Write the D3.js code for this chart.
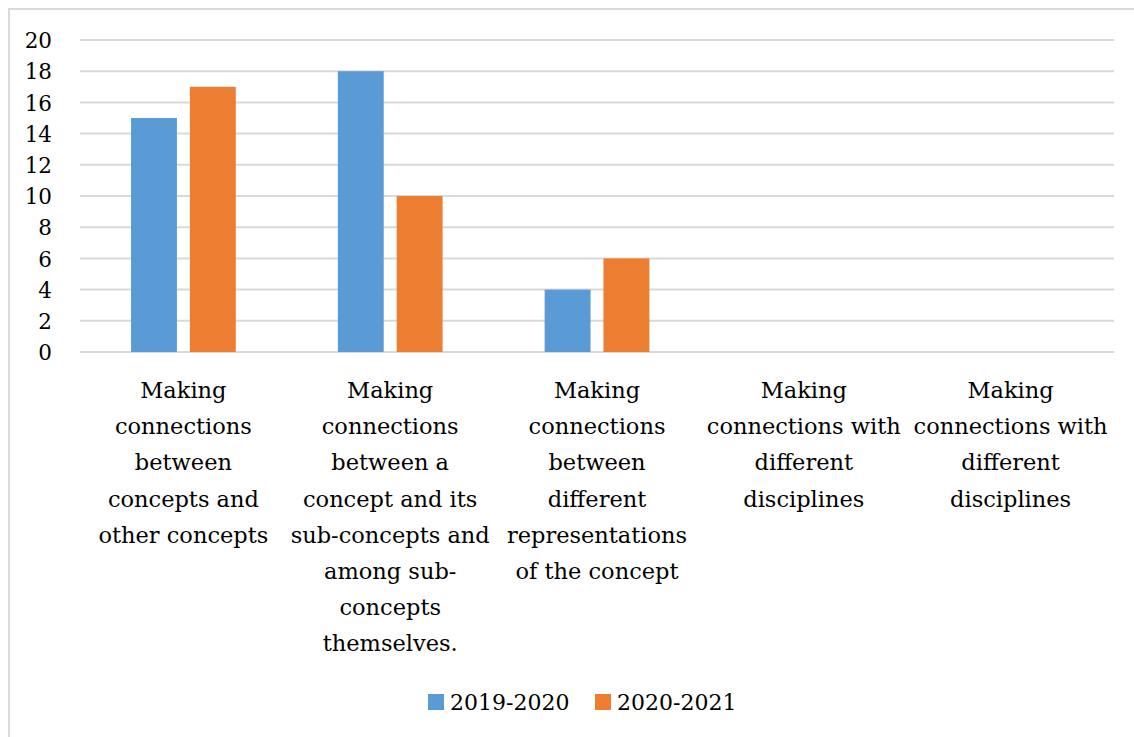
<!DOCTYPE html>
<html><head><meta charset="utf-8">
<script src="https://cdn.jsdelivr.net/npm/d3@7"></script>
<style>body{margin:0;background:#fff;} svg{display:block;} svg text{font-family:"DejaVu Serif";}</style>
</head><body>
<svg id="c" width="1134" height="737"></svg>
<script>
const categories = [
  ["Making","connections","between","concepts and","other concepts"],
  ["Making","connections","between a","concept and its","sub-concepts and","among sub-","concepts","themselves."],
  ["Making","connections","between","different","representations","of the concept"],
  ["Making","connections with","different","disciplines"],
  ["Making","connections with","different","disciplines"]
];
const seriesNames = ["2019-2020","2020-2021"];
const values2019 = [15,18,4,0,0];
const values2020 = [17,10,6,0,0];
const yTicks = [0,2,4,6,8,10,12,14,16,18,20];
const colors = ["#5b9bd5","#ed7d31"];

(function(){
const svg = d3.select("#c");
svg.append("path").attr("d","M9,737 L9,9 L1134,9").attr("fill","none").attr("stroke","#d9d9d9").attr("stroke-width",2);

const pL=80, pR=1114, pT=40, pB=352;
const x = d3.scaleBand().domain(d3.range(categories.length)).range([pL,pR]).paddingInner(0.4936).paddingOuter(0.2468);
const xs = d3.scaleBand().domain([0,1]).range([0,x.bandwidth()]).paddingInner(0.22);
const y = d3.scaleLinear().domain([0,20]).range([pB,pT]);

svg.append("g").selectAll("line").data(yTicks).join("line")
  .attr("x1",pL).attr("x2",pR).attr("y1",d=>y(d)).attr("y2",d=>y(d))
  .attr("stroke","#d9d9d9").attr("stroke-width",2);

const yAxis = d3.axisLeft(y).tickValues(yTicks).tickSize(0).tickPadding(0);
const ya = svg.append("g").attr("transform","translate(52,0)").call(yAxis);
ya.attr("font-family",null).attr("font-size",null);
ya.select(".domain").remove();
ya.selectAll("text").style("font-size","21.5px").attr("fill","#000").attr("dy","0.36em");

[values2019, values2020].forEach((vals,si)=>{
  svg.append("g").selectAll("rect").data(vals).join("rect")
    .attr("x",(d,i)=>x(i)+xs(si)).attr("width",xs.bandwidth())
    .attr("y",d=>y(d)).attr("height",d=>y(0)-y(d))
    .attr("fill",colors[si]);
});

const xc = d3.scaleBand().domain(d3.range(categories.length)).range([pL,pR]);
categories.forEach((lines,i)=>{
  const t = svg.append("text").style("font-size","22.5px")
    .attr("text-anchor","middle").attr("fill","#000");
  lines.forEach((ln,j)=>{
    t.append("tspan").attr("x",xc(i)+xc.bandwidth()/2).attr("y",398+j*36.2).text(ln);
  });
});

const legX=[428,595];
seriesNames.forEach((n,i)=>{
  svg.append("rect").attr("x",legX[i]).attr("y",694).attr("width",16).attr("height",16).attr("fill",colors[i]);
  svg.append("text").attr("x",legX[i]+22).attr("y",702).attr("dy","0.36em").style("font-size","22px").attr("fill","#000").text(n);
});
})();
</script>
</body></html>
